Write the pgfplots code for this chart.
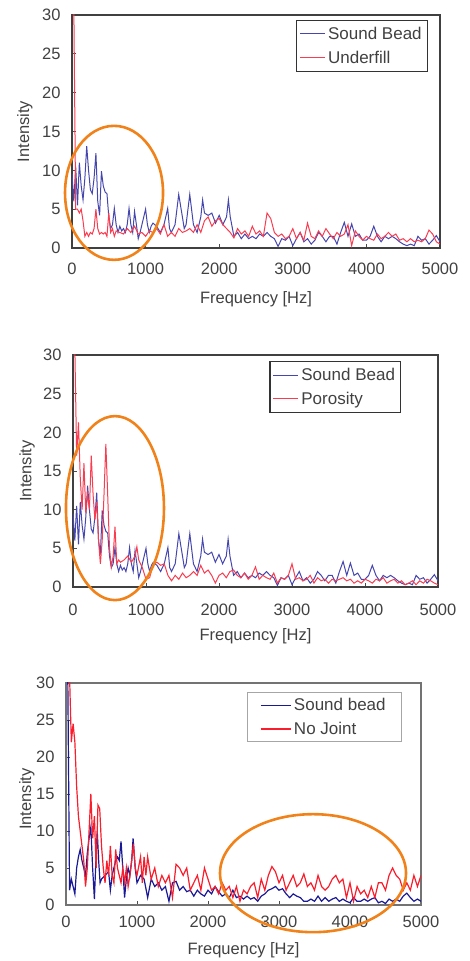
\documentclass[border=0pt]{standalone}
\usepackage{pgfplots}
\pgfplotsset{compat=1.18}
\usepackage{pgfplotstable}
\usepackage{fontspec}
\setmainfont{Liberation Sans}
\definecolor{sbblue}{RGB}{70,70,175}
\definecolor{sbblue3}{RGB}{25,25,150}
\definecolor{fred}{RGB}{250,60,80}
\definecolor{fred3}{RGB}{250,30,45}
\definecolor{ellor}{RGB}{240,130,25}
\definecolor{txt}{RGB}{65,65,65}

\pgfplotstableread{
f v
0 9.5
25 6
50 10.5
75 5.5
100 11
125 8
150 6.2
175 9
200 13.1
225 10
250 7.5
275 7
300 9
325 12.2
350 6
375 4.2
400 9.9
425 8
450 7.2
475 7
500 4
525 2.5
550 3
575 5.1
600 3
625 2
650 2.8
675 2.2
700 2.5
725 2
750 3
775 5.1
800 3
825 2
850 4.7
875 3
900 1.2
925 2
950 3
975 4
1000 5
1025 3
1050 2
1075 2.8
1100 3.2
1150 2.8
1200 2
1250 3
1300 5.1
1325 2.5
1350 2
1400 3
1450 6.9
1500 4
1525 2.5
1550 3
1600 6.9
1650 3
1700 2
1750 4
1775 6.2
1800 4.5
1850 4.2
1900 4.5
1950 3.2
2000 4.2
2050 3
2100 4
2125 6.2
2150 4
2200 1.5
2250 2
2300 1.2
2350 1.8
2400 1.2
2450 1.5
2500 1.2
2550 1.8
2600 1.5
2650 2
2700 1.5
2750 1.2
2800 0.2
2850 1.2
2900 1
2950 1.5
3000 0.3
3050 1.2
3100 2
3150 0.8
3200 1.2
3250 0.5
3300 1
3350 2
3400 1.5
3450 0.8
3500 1.5
3550 1.5
3600 0.5
3650 2
3700 3.3
3750 1.5
3800 3.1
3850 1.5
3900 1.8
3950 1
4000 1
4050 1.5
4100 2.8
4150 1.5
4200 0.8
4250 1.5
4300 1.2
4350 1.5
4400 1.2
4450 0.8
4500 0.5
4550 0.3
4600 0.5
4650 0.3
4700 1.5
4750 1
4800 1.2
4850 0.5
4900 1
4950 1.6
5000 0.8
}\soundA

\pgfplotstableread{
f v
0 31
25 31
50 5
75 5
100 4.5
125 5
150 3.5
175 1.5
200 2
225 1.5
250 2
275 1.8
300 2.5
325 5
350 2.5
375 1.8
400 2
425 1.8
450 2
475 1.5
500 4.5
525 2
550 2.5
575 1.5
600 2.2
650 2
700 1.8
750 2.5
800 2
850 2.8
900 1.8
950 2
1000 1.5
1050 2.2
1100 2
1150 2.5
1200 1.8
1250 3
1300 1.5
1350 2
1400 1.5
1450 2.5
1500 2
1550 2.2
1600 2.5
1650 2
1700 3
1750 2
1800 3.5
1850 4
1900 2.8
1950 3.5
2000 3.8
2050 3
2100 2.5
2150 2
2200 1.3
2250 2.5
2300 1.8
2350 2.2
2400 1.5
2450 2.8
2500 1.8
2550 2.2
2600 1.5
2650 4.5
2700 3.8
2750 2
2800 1.5
2850 1.8
2900 1.2
2950 1.5
3000 2.5
3050 1.2
3100 2
3150 1
3200 3.2
3250 1.5
3300 1.2
3350 2.2
3400 1.5
3450 2.5
3500 1.8
3550 1.2
3600 2
3650 1.5
3700 1.8
3750 3
3800 0.3
3850 2.2
3900 1.5
3950 1
4000 1.5
4050 1.2
4100 1
4150 1.8
4200 1.2
4250 1.5
4300 2
4350 1.5
4400 1.8
4450 1
4500 1.2
4550 0.8
4600 1.2
4650 0.8
4700 1
4750 0.8
4800 1.2
4850 2.3
4900 1.8
4950 0.8
5000 0.5
}\underfill

\pgfplotstableread{
f v
0 31
25 31
50 17
75 21.3
100 14
125 10
150 16
175 9.6
200 12
225 10
250 17
275 12
300 8.7
325 11
350 6
375 3
400 6
425 12
450 18.5
475 12
500 5
525 2.6
550 4
575 7.8
600 3
625 3.5
650 3.2
700 3.5
750 4
800 3.2
850 4
875 5.2
900 3.5
950 2.5
1000 1
1050 1.2
1100 3
1150 3.2
1200 2.8
1250 3
1300 1.5
1350 0.8
1400 1.5
1450 1
1500 1.8
1550 1.2
1600 1.5
1650 2
1700 1.5
1750 2.8
1800 1.8
1850 2.2
1900 1.5
1950 0.5
2000 1.5
2050 1.8
2100 1.2
2150 2
2200 2.2
2250 1.5
2300 1.2
2350 1.8
2400 1
2450 1.5
2500 2.6
2550 1
2600 1.5
2650 1.2
2700 1
2750 1.8
2800 0.5
2850 1.2
2900 1
2950 1.5
3000 3
3050 1
3100 1.2
3150 0.8
3200 1
3250 1.5
3300 0.5
3350 1.2
3400 0.8
3450 1
3500 0.5
3550 1
3600 0.8
3650 1
3700 1.2
3750 0.8
3800 1
3850 0.5
3900 0.8
3950 0.5
4000 1
4050 0.8
4100 0.5
4150 1
4200 0.8
4250 1.2
4300 0.5
4350 0.8
4400 1
4450 0.5
4500 0.8
4550 0.3
4600 0.5
4650 0.8
4700 0.3
4750 0.8
4800 0.5
4850 1
4900 0.8
4950 0.5
5000 0.3
}\porosity

\pgfplotstableread{
f v
0 31
25 31
50 2
75 3.5
100 2.5
125 1.5
150 5
175 6.5
200 7.5
225 6
250 5
275 4
300 7
325 9
350 10.5
375 5
400 0.8
425 7
440 10
460 6
480 3
500 3.5
550 4
600 4.5
625 2
650 4
700 6
725 6.5
750 6
775 8.6
800 5
825 1
850 3.5
875 5
900 4
925 6
945 9
975 5
1000 3
1050 4
1100 3.5
1150 1
1200 3.5
1250 2.5
1300 3
1350 2
1400 2.5
1450 0.5
1500 3
1550 3.2
1600 2
1650 2.5
1700 1.8
1750 2
1800 1.2
1850 2
1900 1.5
1950 1.2
2000 2
2050 1.5
2100 2.5
2150 1.8
2200 1.2
2250 1.5
2300 1
2350 2
2400 1
2450 1.2
2500 0.8
2550 1.2
2600 0.8
2650 1
2700 0.5
2750 1.2
2800 1.5
2850 2
2900 2.2
2950 2.5
3000 2
3050 2.2
3100 1.5
3150 1
3200 1.5
3250 1.2
3300 1
3350 0.5
3400 0.5
3450 0.8
3500 0.5
3550 1.2
3600 0.5
3650 1
3700 0.5
3750 0.8
3800 1
3850 0.5
3900 0.8
3950 0.5
4000 0.3
4050 1
4100 0.5
4150 0.5
4200 0.8
4250 0.5
4300 0.8
4350 1
4400 0.3
4450 0.5
4500 0.2
4550 0.8
4600 0.5
4650 0.8
4700 0.5
4750 1.2
4800 1.6
4850 1
4900 0.5
4950 0.8
5000 0.5
}\soundB

\pgfplotstableread{
f v
0 31
50 31
75 22
100 24.5
125 22
150 16
175 12
200 10
225 8
250 6
275 2.5
300 5
325 10
350 15
375 9
400 12
425 5
450 13.5
475 13
500 8
525 5
550 3
575 6
600 4
625 8
650 4
675 3
700 7.5
725 5
750 4
775 3
800 5
825 3
850 5
875 2.5
900 4
925 6
950 8.3
975 5
1000 4
1050 6.5
1075 3
1100 6.5
1125 4
1150 6.5
1200 3.5
1250 5
1300 2.5
1350 4
1400 3
1450 4
1500 1
1550 5.5
1600 5
1650 4
1700 5
1750 2
1800 3
1850 4
1900 2
1950 5
2000 3.5
2050 2
2100 2.5
2150 1.5
2200 3
2250 2
2300 2.5
2350 1
2400 2.5
2450 0.5
2500 2
2550 1.5
2600 2.5
2650 3
2700 1
2750 3.5
2800 2
2850 4
2900 5.2
2950 4.5
3000 3
3050 4
3100 2
3150 3
3200 4
3250 2.5
3300 3
3350 4.2
3400 2.5
3450 3
3500 2
3550 4
3600 2.5
3650 2
3700 2.5
3750 3.5
3800 4
3850 3
3900 3.5
3950 1
4000 3
4050 0.5
4100 2.5
4150 1.5
4200 2
4250 1
4300 2.5
4350 1
4400 3
4450 3
4500 2
4550 4
4600 5
4650 4
4700 3.5
4750 2
4800 3
4850 2
4900 4
4950 2.5
5000 4
}\nojoint

\pgfplotsset{
  specax/.style={
    scale only axis,
    xmin=0, xmax=5000, ymin=0, ymax=30,
    xtick={0,1000,...,5000}, ytick={0,5,...,30},
    tick align=inside, xtick pos=bottom, ytick pos=left,
    major tick length=4pt,
    tick style={black!70, line width=0.8pt},
    axis line style={black!75, line width=1.4pt},
    /pgf/number format/assume math mode=true,
    /pgf/number format/1000 sep={},
    font=\fontsize{16.5}{19}\selectfont,
    tick label style={txt, font=\fontsize{16.5}{19}\selectfont},
    label style={txt, font=\fontsize{16.5}{19}\selectfont},
    xlabel={Frequency [Hz]}, ylabel={Intensity},
    clip mode=individual,
    legend cell align=left,
    legend image code/.code={\draw[#1] (0pt,0pt) -- (25pt,0pt);},
    legend style={draw=black!80, line width=1.3pt, fill=white,
      font=\fontsize{17}{19}\selectfont, text=txt,
      inner xsep=3pt, inner ysep=4pt, row sep=5pt,
      nodes={inner sep=2.5pt}},
  },
}

\begin{document}
\begin{tikzpicture}[x=1pt,y=1pt]
\useasboundingbox (0,0) rectangle (469,961);
% ---------- Plot 1 ----------
\begin{axis}[specax,
  width=368pt, height=233pt, at={(72pt,713pt)}, anchor=south west,
  xticklabel style={yshift=-11pt},
  yticklabel style={xshift=-8pt},
  xlabel style={at={(axis description cs:0.5,0)}, anchor=north, inner sep=0pt, yshift=-43pt},
  ylabel style={at={(axis description cs:-0.128,0.5)}, anchor=center, inner sep=0pt},
  legend style={at={(0.967,0.979)}, anchor=north east},
]
\addplot[sbblue, line width=1pt] table[x=f,y=v] {\soundA};
\addlegendentry{Sound Bead}
\addplot[fred, line width=1pt] table[x=f,y=v] {\underfill};
\addlegendentry{Underfill}
\draw[ellor, line width=2.6pt] (axis cs:571,7.1) ellipse [x radius=49pt, y radius=67pt];
\end{axis}
% ---------- Plot 2 ----------
\begin{axis}[specax,
  width=365pt, height=232pt, at={(73pt,374pt)}, anchor=south west,
  xticklabel style={yshift=-13pt},
  yticklabel style={xshift=-8pt},
  xlabel style={at={(axis description cs:0.5,0)}, anchor=north, inner sep=0pt, yshift=-41pt},
  ylabel style={at={(axis description cs:-0.126,0.5)}, anchor=center, inner sep=0pt},
  legend style={at={(0.899,0.974)}, anchor=north east},
]
\addplot[sbblue, line width=1pt] table[x=f,y=v] {\soundA};
\addlegendentry{Sound Bead}
\addplot[fred, line width=1pt] table[x=f,y=v] {\porosity};
\addlegendentry{Porosity}
\draw[ellor, line width=2.6pt] (axis cs:575,10.2) ellipse [x radius=49pt, y radius=92pt];
\end{axis}
% ---------- Plot 3 ----------
\begin{axis}[specax,
  width=355pt, height=222pt, at={(66pt,56pt)}, anchor=south west,
  axis line style={black!55, line width=1.3pt},
  xticklabel style={yshift=-7pt},
  yticklabel style={xshift=-8pt},
  xlabel style={at={(axis description cs:0.5,0)}, anchor=north, inner sep=0pt, yshift=-37pt},
  ylabel style={at={(axis description cs:-0.11,0.477)}, anchor=center, inner sep=0pt},
  legend style={at={(0.946,0.959)}, anchor=north east, draw=black!35, inner xsep=13pt, inner ysep=3pt},
  legend image code/.code={\draw[#1] (0pt,0pt) -- (30pt,0pt);},
]
\addplot[sbblue3, line width=1.2pt] table[x=f,y=v] {\soundB};
\addlegendentry{Sound bead}
\addplot[fred3, line width=1.2pt] table[x=f,y=v] {\nojoint};
\addlegendentry{No Joint}
\draw[ellor, line width=2.6pt] (axis cs:3479,4.3) ellipse [x radius=93pt, y radius=59pt];
\end{axis}
\end{tikzpicture}
\end{document}
